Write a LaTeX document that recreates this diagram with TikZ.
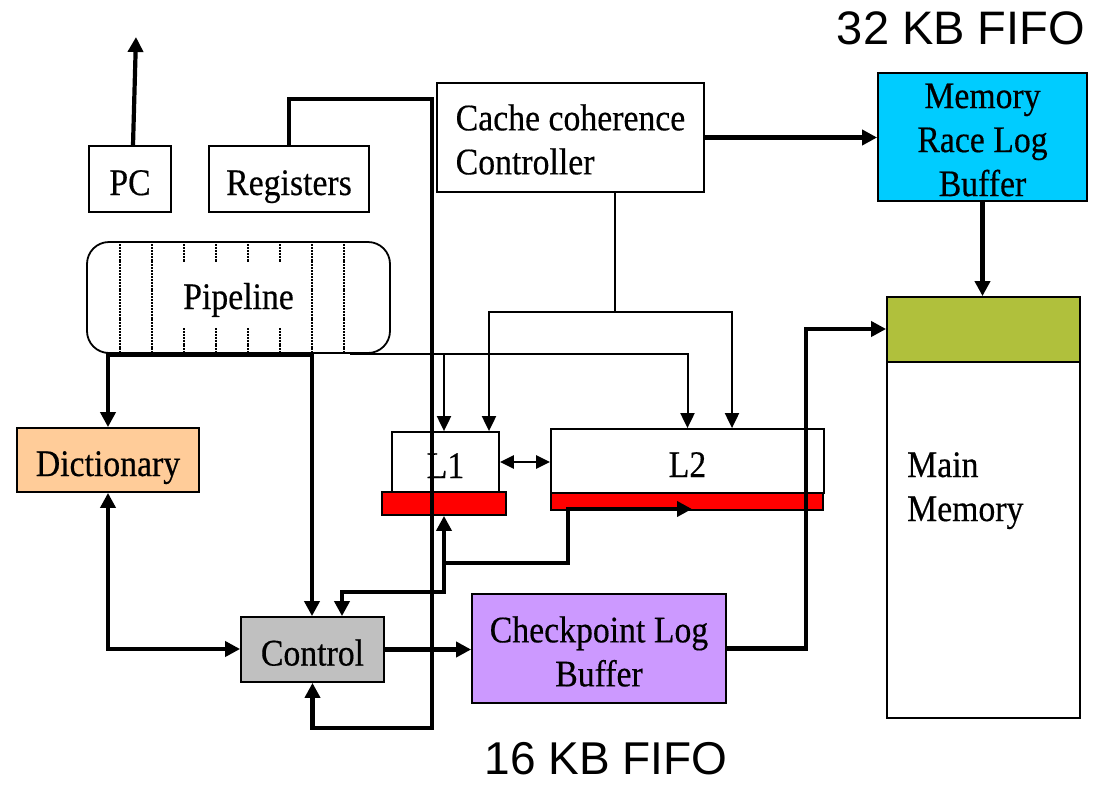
\documentclass[tikz,border=0pt]{standalone}
\usepackage{fontspec}
\setmainfont{Liberation Serif}[FakeStretch=0.9,FakeBold=0.4]
\newfontfamily\labsans{Liberation Sans}
\usetikzlibrary{arrows.meta,calc}
\definecolor{dictc}{HTML}{FFCC99}
\definecolor{ctrlc}{HTML}{C0C0C0}
\definecolor{ckptc}{HTML}{CC99FF}
\definecolor{mrlbc}{HTML}{00CCFF}
\definecolor{oliveg}{HTML}{B0C03C}
\definecolor{redc}{HTML}{FF0000}
\begin{document}
\begin{tikzpicture}[x=1pt,y=-1pt,
  box/.style={draw=black, line width=1.8pt, inner sep=0pt, font=\fontsize{37.5}{44}\selectfont},
  onel/.style={text height=32pt, text depth=0pt},
  txt/.style={inner sep=0pt, font=\fontsize{37.5}{44}\selectfont},
  thkline/.style={line width=4.2pt},
  thkarrow/.style={thkline, -{Triangle[length=15pt,width=15pt]}},
  thkboth/.style={thkline, {Triangle[length=15pt,width=15pt]}-{Triangle[length=15pt,width=15pt]}},
  thinline/.style={line width=2pt},
  thinarrow/.style={thinline, -{Triangle[length=15pt,width=14pt]}},
  thinboth/.style={thinline, {Triangle[length=15pt,width=14pt]}-{Triangle[length=15pt,width=14pt]}},
  midboth/.style={line width=2.4pt, {Triangle[length=14pt,width=13pt]}-{Triangle[length=14pt,width=13pt]}},
  dotline/.style={line width=2.4pt, dash pattern=on 2pt off 0.9pt},
  fifo/.style={font=\labsans\fontsize{47}{56}\selectfont, inner sep=0pt}
]
\useasboundingbox (0,0) rectangle (1103,785);

% boxes
\node[box, onel, minimum width=82pt, minimum height=66pt] (pc) at (130,179) {PC};
\node[box, onel, minimum width=160pt, minimum height=66pt] (reg) at (289,179) {Registers};
\node[box, rounded corners=22pt, minimum width=303pt, minimum height=111pt] (pipe) at (238.5,297.5) {};
\foreach \xx in {120,152,312,344} \draw[dotline] (\xx,244) -- (\xx,352);
\foreach \xx in {184,216,248,280} {
  \draw[dotline] (\xx,244) -- (\xx,262);
  \draw[dotline] (\xx,328) -- (\xx,352);
}
\node[txt, text height=23pt, text depth=0pt] (pipetext) at (pipe.center) {Pipeline};

\node[box, minimum width=267pt, minimum height=109pt] (cc) at (570.5,137.5) {};
\node[txt, align=left] (cctext) at ($(cc.center)+(0,2)$) {Cache coherence\\Controller};
\node[box, fill=mrlbc, minimum width=209pt, minimum height=128pt] (mrlb) at (982.5,137) {};
\node[txt, align=center] (mrlbtext) at ($(mrlb.center)+(0,3)$) {Memory\\Race Log\\Buffer};
\node[box, fill=oliveg, minimum width=193pt, minimum height=65pt] (mmbuf) at (983.5,329.5) {};
\node[box, minimum width=193pt, minimum height=356pt] (mm) at (983.5,540) {};
\node[txt, anchor=north west, align=left] (mmtext) at (907,452) {Main\\Memory};

\node[box, onel, minimum width=107pt, minimum height=60pt] (l1) at (445.5,462) {L1};
\node[box, fill=redc, minimum width=124pt, minimum height=23pt] (l1bar) at (444,503.5) {};
\node[box, onel, minimum width=273pt, minimum height=64pt] (l2) at (687.5,461) {L2};
\node[box, fill=redc, minimum width=272pt, minimum height=17pt] (l2bar) at (687,501.5) {};

\node[box, onel, fill=dictc, minimum width=182pt, minimum height=64pt] (dict) at (108,460) {Dictionary};
\node[box, onel, fill=ctrlc, minimum width=143pt, minimum height=65pt] (ctrl) at (312.5,649.5) {Control};
\node[box, fill=ckptc, minimum width=254pt, minimum height=109pt] (ckpt) at (599,648.5) {};
\node[txt, align=center] (ckpttext) at ($(ckpt.center)+(0,3)$) {Checkpoint Log\\Buffer};

\node[fifo] (fifo32) at (961,28) {32 KB FIFO};
\node[fifo, font=\labsans\fontsize{46}{54}\selectfont] (fifo16) at (606,759) {16 KB FIFO};

% coordinates
\coordinate (pcout) at (136,37);
\coordinate (busA) at (432,99);
\coordinate (busB) at (432,728);
\coordinate (pL) at (108,355);
\coordinate (pR) at (312,355);
\coordinate (tA) at (350,354);
\coordinate (tB) at (444,354);
\coordinate (ccJ) at (615,312);
\coordinate (ccL) at (489,312);
\coordinate (ccR) at (732,312);
\coordinate (fA) at (444,592);
\coordinate (fB) at (342,592);
\coordinate (fC) at (444,563);
\coordinate (fD) at (568,563);
\coordinate (fE) at (568,509);
\coordinate (fF) at (692,509);
\coordinate (dc) at (108,649);
\coordinate (cmT) at (806,329);

% connectors
\draw[thkarrow] ($(pc.north)+(3,0)$) -- (pcout);
\draw[thkarrow] (reg.north) |- (busA) -- (busB) -| (ctrl.south);
\draw[thkboth] (dict.north) -- (pL) -- (pR) -- (pR |- ctrl.north);
\draw[thinarrow] (tA) -| (l2.north);
\draw[thinarrow] (tB) -- (tB |- l1.north);
\draw[thinline] (ccJ |- cc.south) -- (ccJ);
\draw[thinboth] (ccL |- l1.north) -- (ccL) -- (ccR) -- (ccR |- l2.north);
\draw[midboth] (l1.east) -- (l1.east -| l2.west);
\draw[thkboth] (fB |- ctrl.north) -- (fB) -- (fA) -- (fA |- l1bar.south);
\draw[thkarrow] (fC) -- (fD) -- (fE) -- (fF);
\draw[thkboth] (dict.south) -- (dc) -- (dc -| ctrl.west);
\draw[thkarrow] (ctrl.east) -- (ctrl.east -| ckpt.west);
\draw[thkarrow] (ckpt.east) -- (ckpt.east -| cmT) -- (cmT) -- (cmT -| mmbuf.west);
\draw[thkarrow] (cc.east) -- (cc.east -| mrlb.west);
\draw[thkarrow] (mrlb.south) -- (mrlb.south |- mmbuf.north);
\end{tikzpicture}
\end{document}
